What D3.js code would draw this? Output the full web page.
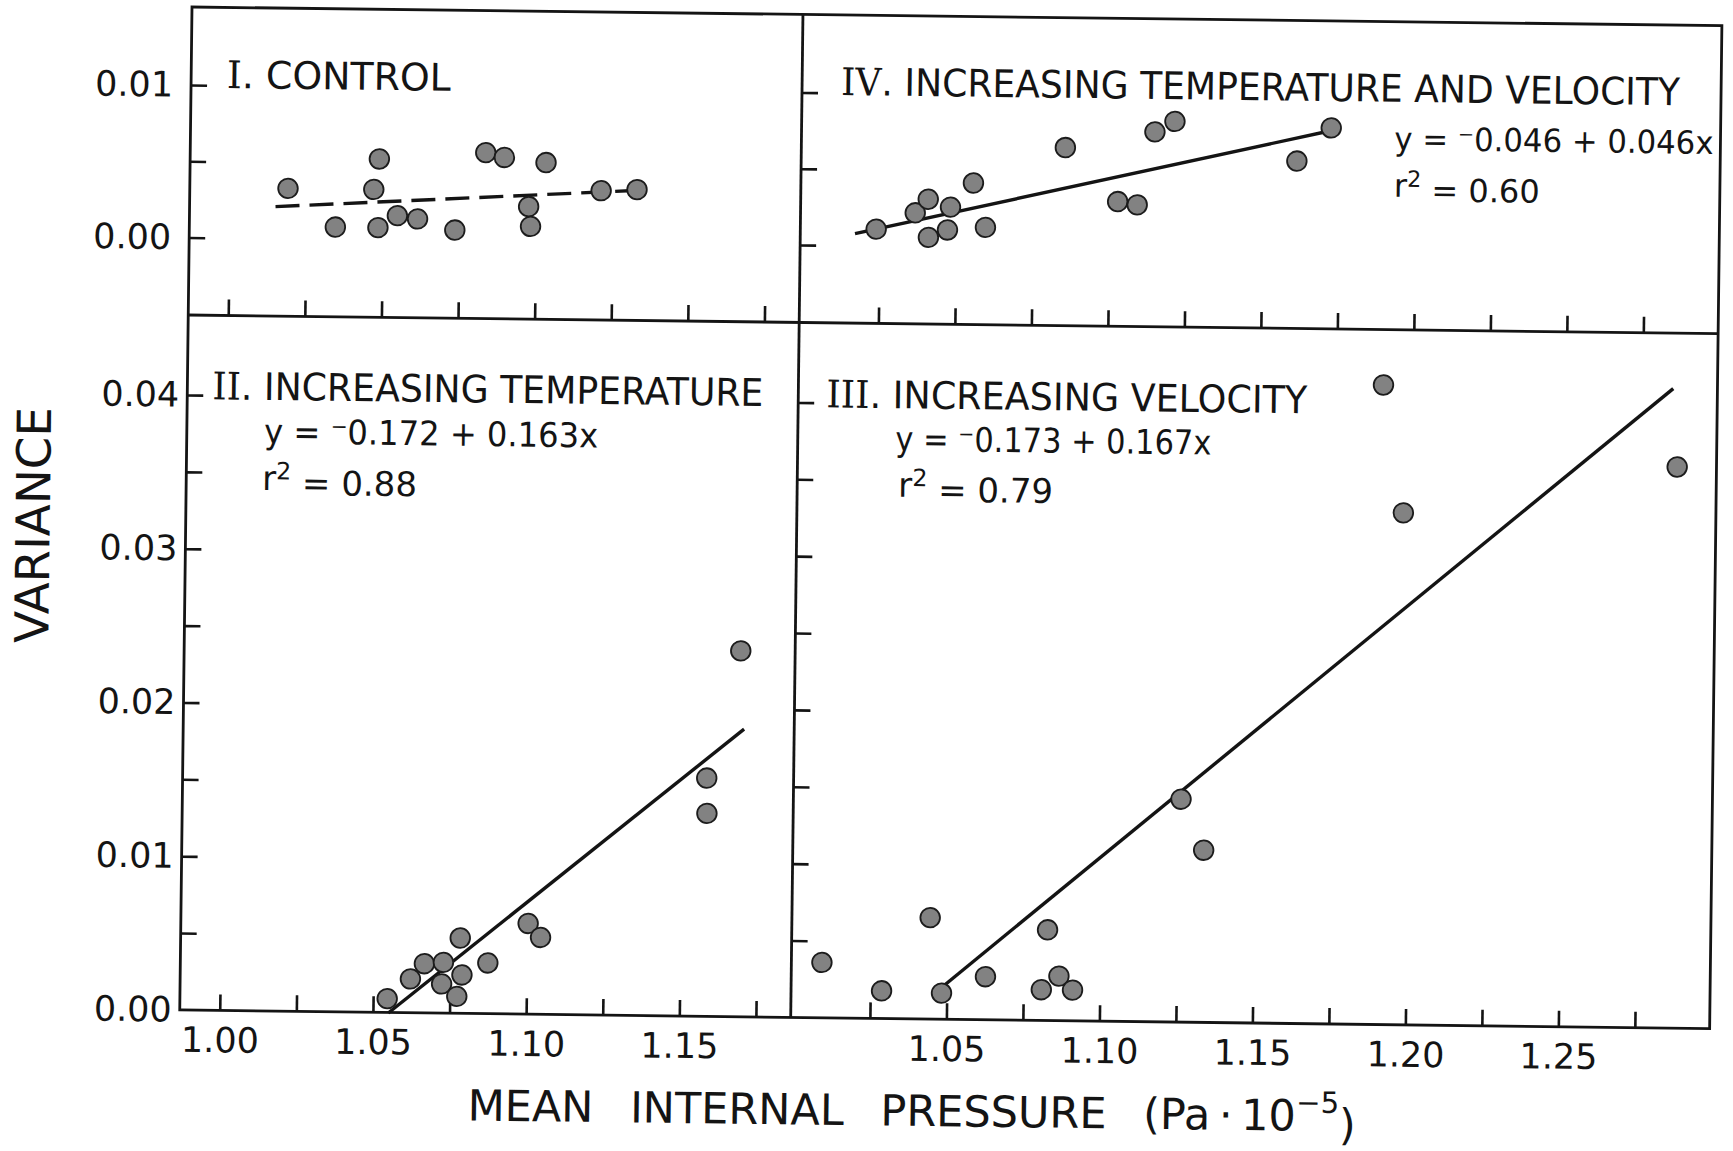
<!DOCTYPE html>
<html>
<head>
<meta charset="utf-8">
<script src="https://cdn.jsdelivr.net/npm/d3@7"></script>
<style>
  html, body { margin: 0; background: #fff; }
  svg { display: block; }
  text { font-family: "DejaVu Sans", sans-serif; fill: #141414; }
</style>
</head>
<body>
<svg id="chart" width="1733" height="1151"></svg>
<script>
// ---- Measurements: mean internal pressure (Pa·10^-5) and variance ----
// I. Control
const controlPressure = [1.0190, 1.0346, 1.0487, 1.0470, 1.0485, 1.0548, 1.0614, 1.0736, 1.0834, 1.0895, 1.1031, 1.0976, 1.0983, 1.1212, 1.1329];
const controlVariance = [0.0033, 0.0008, 0.0053, 0.0033, 0.0008, 0.0016, 0.0014, 0.0007, 0.0058, 0.0055, 0.0052, 0.0023, 0.0010, 0.0034, 0.0035];
// II. Increasing temperature
const temperaturePressure = [1.0546, 1.0621, 1.0666, 1.0723, 1.0728, 1.0773, 1.0782, 1.0789, 1.0873, 1.1003, 1.1044, 1.1580, 1.1582, 1.1686];
const temperatureVariance = [0.0009, 0.0022, 0.0032, 0.0019, 0.0033, 0.0011, 0.0049, 0.0025, 0.0033, 0.0059, 0.0050, 0.0155, 0.0132, 0.0238];
// III. Increasing velocity
const velocityPressure = [1.0091, 1.0287, 1.0443, 1.0483, 1.0626, 1.0809, 1.0827, 1.0866, 1.0911, 1.1258, 1.1334, 1.1903, 1.1973, 1.2866];
const velocityVariance = [0.0036, 0.0018, 0.0066, 0.0017, 0.0028, 0.0020, 0.0059, 0.0029, 0.0020, 0.0145, 0.0112, 0.0416, 0.0333, 0.0365];
// IV. Increasing temperature and velocity
const bothPressure = [1.0239, 1.0366, 1.0408, 1.0410, 1.0472, 1.0481, 1.0555, 1.0596, 1.0854, 1.1027, 1.1091, 1.1146, 1.1211, 1.1611, 1.1722];
const bothVariance = [0.0011, 0.0022, 0.0031, 0.0006, 0.0011, 0.0026, 0.0042, 0.0013, 0.0066, 0.0031, 0.0029, 0.0077, 0.0084, 0.0059, 0.0081];

// ---- Regression lines y = a + b·x, in panel order I, II, III, IV ----
const panelNumerals = ["I", "II", "III", "IV"];
const panelNames = ["CONTROL", "INCREASING TEMPERATURE", "INCREASING VELOCITY", "INCREASING TEMPERATURE AND VELOCITY"];
const fitIntercept = [-0.00957, -0.172, -0.173, -0.046];
const fitSlope = [0.01149, 0.163, 0.167, 0.046];
const fitStart = [1.015, 1.055, 1.049, 1.017];
const fitEnd = [1.136, 1.170, 1.285, 1.172];
const fitR2 = [null, 0.88, 0.79, 0.60];

// ---- Axis ticks ----
const leftPressureTicks = [1.000, 1.025, 1.050, 1.075, 1.100, 1.125, 1.150, 1.175];
const leftPressureLabels = [1.00, 1.05, 1.10, 1.15];
const rightPressureTicks = [1.025, 1.050, 1.075, 1.100, 1.125, 1.150, 1.175, 1.200, 1.225, 1.250, 1.275];
const rightPressureLabels = [1.05, 1.10, 1.15, 1.20, 1.25];
const topVarianceTicks = [0, 0.005, 0.01];
const topVarianceLabels = [0, 0.01];
const bottomVarianceTicks = [0.005, 0.010, 0.015, 0.020, 0.025, 0.030, 0.035, 0.040];
const bottomVarianceLabels = [0, 0.01, 0.02, 0.03, 0.04];

// ---- Layout ----
const W = 1530, H = 1003, SPLIT_X = 611, SPLIT_Y = 308;
const INK = "#141414";
const TICK = 16;

const svg = d3.select("#chart");
svg.append("rect").attr("width", 1733).attr("height", 1151).attr("fill", "#fff");

// the whole figure sits on a slightly tilted sheet
const sheet = svg.append("g").attr("transform", "translate(192,7) rotate(0.7)");

const xLeft = d3.scaleLinear().domain([1.00, 1.175]).range([40, 576.2]);
const xRight = d3.scaleLinear().domain([1.05, 1.25]).range([766.7, 1378.7]);
const yTop = d3.scaleLinear().domain([0, 0.01]).range([230.5, 78]);
const yBottom = d3.scaleLinear().domain([0, 0.04]).range([H, 388]);

const fmt2 = d3.format(".2f");

function styleAxis(g, fontSize) {
  g.select(".domain").remove();
  g.attr("font-family", null).attr("font-size", null);
  g.selectAll(".tick line").attr("stroke", INK).attr("stroke-width", 2.6);
  g.selectAll(".tick text").attr("fill", INK).style("font-size", fontSize + "px");
}

// ---- tick marks pointing into the panels ----
// vertical ticks on the left edge of each column
[[0, yTop, topVarianceTicks], [SPLIT_X, yTop, topVarianceTicks],
 [0, yBottom, bottomVarianceTicks], [SPLIT_X, yBottom, bottomVarianceTicks]].forEach(([x0, sc, vals]) => {
  sheet.append("g").attr("transform", `translate(${x0},0)`)
    .call(d3.axisRight(sc).tickValues(vals).tickSize(TICK).tickSizeOuter(0).tickFormat(""))
    .call(g => styleAxis(g, 10));
});
// horizontal ticks on the bottom edge of each row
[[SPLIT_Y, xLeft, leftPressureTicks], [SPLIT_Y, xRight, rightPressureTicks],
 [H, xLeft, leftPressureTicks], [H, xRight, rightPressureTicks]].forEach(([y0, sc, vals]) => {
  sheet.append("g").attr("transform", `translate(0,${y0})`)
    .call(d3.axisTop(sc).tickValues(vals).tickSize(TICK).tickSizeOuter(0).tickFormat(""))
    .call(g => styleAxis(g, 10));
});

// ---- tick labels ----
sheet.append("g")
  .call(d3.axisLeft(yTop).tickValues(topVarianceLabels).tickSize(0).tickPadding(18).tickFormat(fmt2))
  .call(g => styleAxis(g, 35));
sheet.append("g")
  .call(d3.axisLeft(yBottom).tickValues(bottomVarianceLabels).tickSize(0).tickPadding(8).tickFormat(fmt2))
  .call(g => styleAxis(g, 35));
[[xLeft, leftPressureLabels], [xRight, rightPressureLabels]].forEach(([sc, vals]) => {
  sheet.append("g").attr("transform", `translate(0,${H})`)
    .call(d3.axisBottom(sc).tickValues(vals).tickSize(0).tickPadding(17).tickFormat(fmt2))
    .call(g => styleAxis(g, 35));
});

// ---- panel frame ----
const frame = sheet.append("g").attr("fill", "none").attr("stroke", INK).attr("stroke-width", 2.8);
frame.append("rect").attr("x", 0).attr("y", 0).attr("width", W).attr("height", H);
frame.append("line").attr("x1", SPLIT_X).attr("x2", SPLIT_X).attr("y1", 0).attr("y2", H);
frame.append("line").attr("x1", 0).attr("x2", W).attr("y1", SPLIT_Y).attr("y2", SPLIT_Y);

// ---- panels: I top-left, II bottom-left, III bottom-right, IV top-right ----
const panels = [
  { x: xLeft,  y: yTop,    px: controlPressure,     vy: controlVariance,     dashed: true },
  { x: xLeft,  y: yBottom, px: temperaturePressure, vy: temperatureVariance, dashed: false },
  { x: xRight, y: yBottom, px: velocityPressure,    vy: velocityVariance,    dashed: false },
  { x: xRight, y: yTop,    px: bothPressure,        vy: bothVariance,        dashed: false }
];

panels.forEach((p, i) => {
  const g = sheet.append("g");
  const a = fitIntercept[i], b = fitSlope[i];
  const linePts = [fitStart[i], fitEnd[i]].map(v => [v, a + b * v]);
  g.append("path")
    .datum(linePts)
    .attr("d", d3.line().x(d => p.x(d[0])).y(d => p.y(d[1])))
    .attr("fill", "none")
    .attr("stroke", INK)
    .attr("stroke-width", 3.4)
    .attr("stroke-dasharray", p.dashed ? "24 10" : null);

  g.selectAll("circle")
    .data(d3.zip(p.px, p.vy))
    .join("circle")
    .attr("cx", d => p.x(d[0]))
    .attr("cy", d => p.y(d[1]))
    .attr("r", 9.8)
    .attr("fill", "#828282")
    .attr("stroke", "#1c1c1c")
    .attr("stroke-width", 1.8);
});

// ---- panel titles ----
const titlePos = [[35.7, 80.6, 224], [25, 392, 551], [639, 392.6, 481], [650, 80.1, 839]];
panelNames.forEach((name, i) => {
  const t = sheet.append("text")
    .attr("x", titlePos[i][0]).attr("y", titlePos[i][1])
    .attr("textLength", titlePos[i][2])
    .attr("lengthAdjust", "spacingAndGlyphs")
    .style("font-size", "38px");
  t.append("tspan").style("font-family", "'DejaVu Serif', serif").text(panelNumerals[i]);
  t.append("tspan").text(". " + name);
});

// ---- regression equations and r² ----
const eqPos = [null, [77.3, 435.4, 334, 34], [708.6, 435.1, 316, 34], [1204, 128.3, 319, 32]];
const r2Pos = [null, [75.9, 482, 34], [712, 481, 34], [1204, 175, 32]];
function signed(v) { return (v < 0 ? "\u207B" : "") + Math.abs(v).toFixed(3); }
for (let i = 1; i < 4; i++) {
  const [ex, ey, ew, es] = eqPos[i];
  sheet.append("text")
    .attr("x", ex).attr("y", ey)
    .attr("textLength", ew).attr("lengthAdjust", "spacingAndGlyphs")
    .style("font-size", es + "px")
    .text(`y = ${signed(fitIntercept[i])} + ${fitSlope[i].toFixed(3)}x`);

  const [rx, ry, rs] = r2Pos[i];
  const r = sheet.append("text").attr("x", rx).attr("y", ry).style("font-size", rs + "px");
  r.append("tspan").text("r");
  r.append("tspan").attr("dy", "-0.45em").style("font-size", "70%").text("2");
  r.append("tspan").attr("dy", "0.45em").text(" = " + fitR2[i].toFixed(2));
}

// ---- axis titles ----
sheet.append("text")
  .attr("transform", "translate(-136,520) rotate(-90)")
  .attr("text-anchor", "middle")
  .style("font-size", "47px")
  .attr("textLength", 236).attr("lengthAdjust", "spacingAndGlyphs")
  .text("VARIANCE");

const xt = sheet.append("text")
  .attr("x", 289).attr("y", 1110)
  .style("font-size", "43px")
  .style("word-spacing", "23px");
xt.append("tspan").text("MEAN INTERNAL PRESSURE (Pa\u2009\u00B7\u200910");
xt.append("tspan").attr("dy", "-0.62em").style("font-size", "68%").text("\u22125");
xt.append("tspan").attr("dy", "0.62em").text(")");
</script>
</body>
</html>
